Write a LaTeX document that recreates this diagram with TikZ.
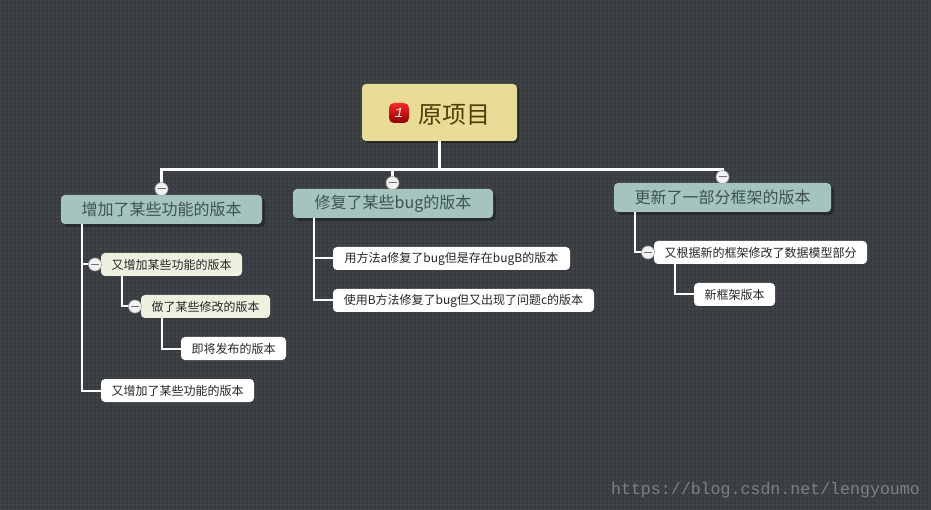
\documentclass[tikz,border=0pt]{standalone}
\usepackage{fontspec}
\setmainfont{Noto Sans CJK SC}
\newfontfamily\markfont{Liberation Mono}
\usetikzlibrary{shadows,patterns}
\definecolor{boardbg}{HTML}{393D41}
\definecolor{boarddot}{HTML}{41464A}
\definecolor{rootfill}{HTML}{E8DC96}
\definecolor{rootink}{HTML}{4F3F08}
\definecolor{mainfill}{HTML}{A4C4BD}
\definecolor{mainink}{HTML}{3E5252}
\definecolor{subfill}{HTML}{EEF1E0}
\pgfdeclarepatternformonly{boardgrid}{\pgfqpoint{0pt}{0pt}}{\pgfqpoint{2pt}{2pt}}{\pgfqpoint{4pt}{4pt}}{
  \pgfpathrectangle{\pgfqpoint{0pt}{0pt}}{\pgfqpoint{2pt}{2pt}}
  \pgfusepath{fill}
}
\tikzset{
  root/.style={rectangle, rounded corners=4pt, fill=rootfill, text=rootink, font=\fontsize{24}{24}\selectfont,
    minimum width=155pt, minimum height=57pt, drop shadow={shadow xshift=2pt, shadow yshift=-2pt, opacity=.35, fill=black}},
  mainbox/.style={rectangle, rounded corners=4pt, fill=mainfill, text=mainink, font=\fontsize{16}{16}\selectfont,
    minimum height=29pt, inner sep=0pt, drop shadow={shadow xshift=3pt, shadow yshift=-3pt, opacity=.3, fill=black}},
  subbox/.style={rectangle, rounded corners=4pt, fill=white, text=black!85, font=\fontsize{12}{12}\selectfont,
    minimum height=23pt, inner sep=0pt},
  midbox/.style={subbox, fill=subfill},
  collapse/.style={circle, fill=white!95!black, draw=black!35, line width=.6pt, minimum size=13pt, inner sep=0pt,
    path picture={\draw[black!55, line width=1pt] (path picture bounding box.west) ++(2.5pt,0) -- ++(8pt,0);}},
  trunk/.style={draw=white, line width=3pt},
  link/.style={draw=white, line width=2pt},
  badge/.style={rectangle, rounded corners=5pt, top color=red!85!white, bottom color=red!55!black, text=white,
    font=\fontsize{14}{14}\selectfont\itshape, minimum size=20pt, inner sep=0pt}
}
\begin{document}
\begin{tikzpicture}[x=1pt, y=-1pt]
  \node[rectangle, fill=boardbg, minimum width=931pt, minimum height=510pt, inner sep=0pt, outer sep=0pt] (board) at (465.5,255) {};
  \fill[pattern=boardgrid, pattern color=boarddot] (board.south west) rectangle (board.north east);
  \useasboundingbox (board.south west) rectangle (board.north east);

  \node[root] (yuan) at (439.5,112.5) {};
  \node[badge] (badge1) at (399,113) {\markfont\itshape 1};
  \node[text=rootink, font=\fontsize{24}{24}\selectfont, inner sep=0pt] (yuantext) at (454.5,115) {原项目};

  \node[mainbox, minimum width=201pt] (gongneng) at (161.5,209.5) {增加了某些功能的版本};
  \node[mainbox, minimum width=200pt] (xiufu) at (393,203.5) {修复了某些bug的版本};
  \node[mainbox, minimum width=217pt] (kuangjia) at (722.5,197.5) {更新了一部分框架的版本};

  \node[midbox, minimum width=141pt] (youzeng) at (171.5,264.5) {又增加某些功能的版本};
  \node[midbox, minimum width=129pt] (xiugai) at (205.5,306.5) {做了某些修改的版本};
  \node[subbox, minimum width=105pt] (jijiang) at (233.5,348.5) {即将发布的版本};
  \node[subbox, minimum width=153pt] (youjia) at (177.5,390.5) {又增加了某些功能的版本};

  \node[subbox, minimum width=237pt] (fanga) at (451.5,258.5) {用方法a修复了bug但是存在bugB的版本};
  \node[subbox, minimum width=261pt] (fangb) at (463.5,300.5) {使用B方法修复了bug但又出现了问题c的版本};

  \node[subbox, minimum width=213pt] (moxing) at (760.5,252.5) {又根据新的框架修改了数据模型部分};
  \node[subbox, minimum width=81pt] (xinban) at (734.5,294.5) {新框架版本};

  \coordinate (bus) at (439.5,169.5);
  \draw[trunk] (yuan.south) -- (bus);
  \draw[trunk] (161.5,189) |- (bus) -| (722.5,177);
  \draw[trunk] (392.5,183) -- (392.5,169.5);

  \draw[link] ([xshift=21pt]gongneng.south west) |- (youjia.west);
  \draw[link] ([xshift=21pt]gongneng.south west) |- (youzeng.west);
  \draw[link] ([xshift=21pt]youzeng.south west) |- (xiugai.west);
  \draw[link] ([xshift=21pt]xiugai.south west) |- (jijiang.west);
  \draw[link] ([xshift=21pt]xiufu.south west) |- (fanga.west);
  \draw[link] ([xshift=21pt]xiufu.south west) |- (fangb.west);
  \draw[link] ([xshift=21pt]kuangjia.south west) |- (moxing.west);
  \draw[link] ([xshift=21pt]moxing.south west) |- (xinban.west);

  \node[collapse] (dot1) at (161.5,189) {};
  \node[collapse] (dot2) at (392.5,183) {};
  \node[collapse] (dot3) at (722.5,177) {};
  \node[collapse] (dot4) at (95,264.5) {};
  \node[collapse] (dot5) at (135,306.5) {};
  \node[collapse] (dot6) at (648,252.5) {};

  \node[text=black!50!white, font=\markfont\fontsize{16.6}{17}\selectfont, inner sep=0pt] (mark) at (765.5,490) {https://blog.csdn.net/lengyoumo};
\end{tikzpicture}
\end{document}
